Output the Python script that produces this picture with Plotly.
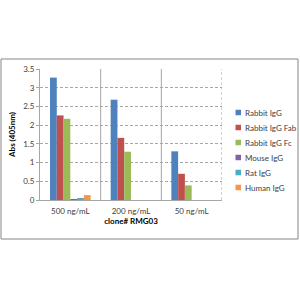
import plotly.graph_objects as go

categories = ["500 ng/mL", "200 ng/mL", "50 ng/mL"]
series_names = ["Rabbit IgG", "Rabbit IgG Fab", "Rabbit IgG Fc", "Mouse IgG", "Rat IgG", "Human IgG"]
rabbit_igg = [3.27, 2.68, 1.30]
rabbit_fab = [2.26, 1.66, 0.70]
rabbit_fc = [2.17, 1.29, 0.39]
mouse_igg = [0.02, 0.0, 0.0]
rat_igg = [0.03, 0.0, 0.0]
human_igg = [0.13, 0.0, 0.0]
colors = ["#4F81BD", "#C0504D", "#9BBB59", "#8064A2", "#4BACC6", "#F79646"]

values = [rabbit_igg, rabbit_fab, rabbit_fc, mouse_igg, rat_igg, human_igg]
xpos = list(range(len(categories)))

# plot area in pixels
L, R, T, B = 40, 222, 69, 200
W, H = R - L, B - T
def px_x(px):
    return (px - L) / W
def px_y(py):
    return (B - py) / H

fig = go.Figure()
for name, vals, c in zip(series_names, values, colors):
    fig.add_trace(go.Bar(x=xpos, y=vals, name=name, showlegend=False,
                         marker=dict(color=c, line=dict(width=0))))

FONT = "Lato"
fig.update_layout(
    width=300, height=300,
    margin=dict(l=L, r=300 - R, t=T, b=300 - B, autoexpand=False),
    paper_bgcolor="white", plot_bgcolor="white",
    barmode="group", bargap=0.33, bargroupgap=0,
    font=dict(family=FONT, size=8, color="#404040"),
    showlegend=False,
    xaxis=dict(range=[-0.5, 2.5], tickvals=xpos, ticktext=categories,
               showgrid=False, showline=True, linecolor="#a6a6a6", linewidth=1,
               ticks="", tickfont=dict(size=8, color="#404040"), ticklabelstandoff=3,
               title=dict(text="<b>clone# RMG03</b>", font=dict(size=8, color="#000000"), standoff=3),
               zeroline=False, fixedrange=True),
    yaxis=dict(range=[0, 3.5], dtick=0.5, showgrid=True, gridcolor="#a6a6a6",
               griddash="3px,2px", gridwidth=1, showline=True, linecolor="#a6a6a6",
               ticks="outside", ticklen=3, tickcolor="#a6a6a6",
               tickfont=dict(size=8, color="#404040"),
               title=dict(text="<b>Abs (405nm)</b>", font=dict(size=8, color="#000000"), standoff=6),
               zeroline=False, fixedrange=True),
)

# category separators and right dashed frame
for xv in [0.5, 1.5]:
    fig.add_shape(type="line", x0=xv, x1=xv, y0=0, y1=1, xref="x", yref="paper",
                  line=dict(color="#a6a6a6", width=1), layer="below")
fig.add_shape(type="line", x0=2.5, x1=2.5, y0=0, y1=1, xref="x", yref="paper",
              line=dict(color="#a6a6a6", width=1, dash="3px,2px"), layer="below")

# legend (manual, Excel-like compact layout)
for i, (name, c) in enumerate(zip(series_names, colors)):
    cy = 112.5 + 15 * i
    fig.add_shape(type="rect", xref="paper", yref="paper",
                  x0=px_x(235.5), x1=px_x(241), y0=px_y(cy + 2.75), y1=px_y(cy - 2.75),
                  line=dict(width=0), fillcolor=c)
    fig.add_annotation(xref="paper", yref="paper", x=px_x(243), y=px_y(cy),
                       xanchor="left", yanchor="middle", showarrow=False,
                       text=name, font=dict(size=8, color="#404040", family=FONT))

# outer chart border
fig.add_shape(type="rect", xref="paper", yref="paper",
              x0=px_x(1), x1=px_x(298), y0=px_y(239), y1=px_y(59),
              line=dict(color="#868686", width=1), fillcolor="rgba(0,0,0,0)")

fig.write_html("out.html")
